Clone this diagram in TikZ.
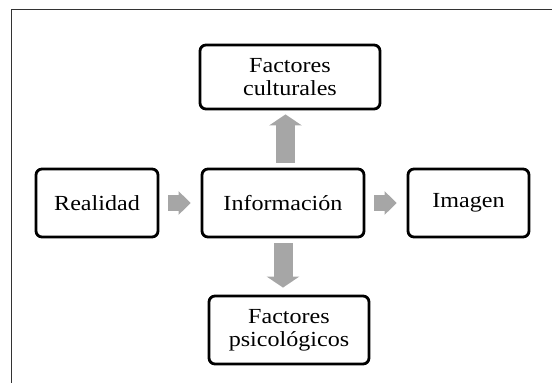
\documentclass[tikz,border=0pt]{standalone}
\usepackage{fontspec}
\setmainfont{Liberation Serif}[FakeStretch=1.12]
\usetikzlibrary{arrows.meta,calc}
\definecolor{arrgray}{RGB}{166,166,166}
\tikzset{
  box/.style={draw=black, line width=2.8pt, rounded corners=6pt, fill=white, align=center,
    font=\fontsize{21.5}{23}\selectfont, inner sep=0pt},
  harrow/.style={draw=arrgray, line width=16pt, -{Triangle[width=23pt,length=12pt]}},
  varrow/.style={draw=arrgray, line width=19pt, -{Triangle[width=32pt,length=11pt]}},
}
\begin{document}
\begin{tikzpicture}[x=1pt,y=-1pt]
\useasboundingbox (0,0) rectangle (552,383);
\draw[line width=0.8pt, black!80] (11,383) -- (11,9) -- (552,9);
\node[box, minimum width=180pt, minimum height=64pt] (fc) at (290,77) {Factores\\culturales};
\node[box, minimum width=122pt, minimum height=68pt] (real) at (97,203) {Realidad};
\node[box, minimum width=162pt, minimum height=68pt] (info) at (283,203) {Información};
\node[box, minimum width=121pt, minimum height=68pt] (img) at (468.5,203) {Imagen};
\node[box, minimum width=160pt, minimum height=68pt] (fp) at (289,330) {Factores\\psicológicos};
\coordinate (ua) at ($(info.north)+(2.5,0)$);
\coordinate (ub) at (ua |- fc.south);
\draw[varrow, shorten <=5pt, shorten >=4pt] (ua) -- (ub);
\draw[varrow, shorten <=5pt, shorten >=7pt] (info.south) -- (info.south |- fp.north);
\draw[harrow, shorten <=9pt, shorten >=10pt] (real.east) -- (info.west);
\draw[harrow, shorten <=9pt, shorten >=10pt] (info.east) -- (img.west);
\end{tikzpicture}
\end{document}
